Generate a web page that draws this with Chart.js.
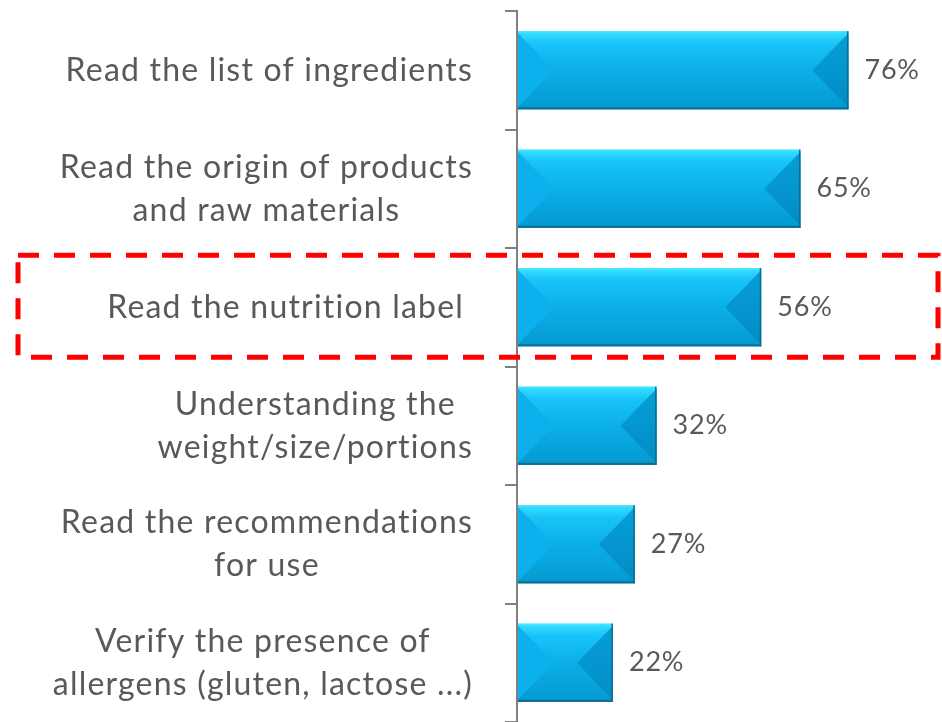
<!DOCTYPE html>
<html>
<head>
<meta charset="utf-8">
<script src="https://cdn.jsdelivr.net/npm/chart.js@4.4.1/dist/chart.umd.min.js"></script>
<style>
  html, body { margin: 0; padding: 0; background: #fff; }
  #wrap { width: 942px; height: 722px; position: relative; }
</style>
</head>
<body>
<div id="wrap"><canvas id="barChart"></canvas></div>
<script>
// dados do gráfico
var categories = [
    ['Read the list of ingredients'],
    ['Read the origin of products', 'and raw materials'],
    ['Read the nutrition label'],
    ['Understanding the', 'weight/size/portions'],
    ['Read the recommendations', 'for use'],
    ['Verify the presence of', 'allergens (gluten, lactose ...)']
];
var values = [76, 65, 56, 32, 27, 22];
var highlighted = 2; // categoria com a moldura vermelha

var labelFont = '32px Lato';
var valueFont = '27px Lato';
var textColor = '#595959';

// rótulos das categorias (linhas centralizadas, bloco alinhado à direita)
var categoryLabels = {
    id: 'categoryLabels',
    afterDraw: function (chart) {
        var ctx = chart.ctx;
        var yScale = chart.scales.y;
        var right = chart.chartArea.left - 44;
        ctx.save();
        ctx.font = labelFont;
        ctx.letterSpacing = '1.2px';
        ctx.fillStyle = textColor;
        ctx.textAlign = 'center';
        ctx.textBaseline = 'middle';
        var lineH = 43;
        categories.forEach(function (lines, i) {
            var w = 0;
            lines.forEach(function (l) { w = Math.max(w, ctx.measureText(l).width); });
            var r = right - (i === highlighted ? 9 : 0);
            var cx = r - w / 2;
            var cy = yScale.getPixelForValue(i);
            var y0 = cy - (lines.length - 1) * lineH / 2;
            lines.forEach(function (l, k) {
                ctx.fillText(l, cx, y0 + k * lineH);
            });
        });
        ctx.restore();
    }
};

// efeito 3D das barras + rótulos de valor
var bevelBars = {
    id: 'bevelBars',
    afterDatasetsDraw: function (chart) {
        var ctx = chart.ctx;
        var meta = chart.getDatasetMeta(0);
        ctx.save();
        meta.data.forEach(function (bar, i) {
            var L = bar.base + 1, R = bar.x;
            var T = bar.y - bar.height / 2, B = bar.y + bar.height / 2;
            var h = B - T, w = R - L;
            var d = Math.min(h / 2 - 3, w / 2);
            var mid = bar.y;

            var g = ctx.createLinearGradient(0, T, 0, B);
            g.addColorStop(0, '#3ae0ff');
            g.addColorStop(0.05, '#30d8fe');
            g.addColorStop(0.15, '#19c4f8');
            g.addColorStop(0.5, '#0bafe9');
            g.addColorStop(1, '#0598d0');
            ctx.fillStyle = g;
            ctx.fillRect(L, T, w, h);

            // lado esquerdo
            ctx.fillStyle = '#0bb0ec';
            ctx.beginPath();
            ctx.moveTo(L, T + 2);
            ctx.lineTo(L + d, mid);
            ctx.lineTo(L, B - 2);
            ctx.closePath();
            ctx.fill();

            // lado direito
            var gr = ctx.createLinearGradient(0, T, 0, B);
            gr.addColorStop(0, '#069fd8');
            gr.addColorStop(0.5, '#0596cf');
            gr.addColorStop(1, '#038ac2');
            ctx.fillStyle = gr;
            ctx.beginPath();
            ctx.moveTo(R, T + 2);
            ctx.lineTo(R - d, mid);
            ctx.lineTo(R, B - 2);
            ctx.closePath();
            ctx.fill();

            // bordas
            ctx.fillStyle = '#45e6ff';
            ctx.fillRect(L, T, w, 1.5);
            ctx.fillStyle = '#0d6d90';
            ctx.fillRect(L, B - 2, w, 2);
            ctx.fillStyle = '#0b6f95';
            ctx.fillRect(R - 1.5, T, 1.5, h);

            // valor
            ctx.font = valueFont;
            ctx.letterSpacing = '0.8px';
            ctx.fillStyle = textColor;
            ctx.textAlign = 'left';
            ctx.textBaseline = 'middle';
            ctx.fillText(values[i] + '%', R + 16, mid);
        });
        ctx.restore();
    }
};

// moldura tracejada vermelha
var highlightBox = {
    id: 'highlightBox',
    afterDraw: function (chart) {
        var ctx = chart.ctx;
        var cy = chart.scales.y.getPixelForValue(highlighted);
        ctx.save();
        ctx.strokeStyle = '#ff0000';
        ctx.lineWidth = 5;
        ctx.setLineDash([21, 15]);
        ctx.strokeRect(18, cy - 52, 920, 102);
        ctx.restore();
    }
};

var ctx = document.getElementById('barChart').getContext('2d');
var myChart = new Chart(ctx, {
    type: 'bar',
    data: {
        labels: categories,
        datasets: [{
            data: values,
            backgroundColor: 'rgba(0,0,0,0)',
            borderWidth: 0,
            barPercentage: 0.66,
            categoryPercentage: 1
        }]
    },
    options: {
        indexAxis: 'y',
        responsive: true,
        maintainAspectRatio: false,
        animation: false,
        layout: { padding: { top: 11, bottom: 0, right: 2, left: 0 } },
        plugins: {
            legend: { display: false },
            tooltip: { enabled: false }
        },
        scales: {
            x: {
                display: false,
                min: 0,
                max: 97
            },
            y: {
                afterFit: function (scale) { scale.width = 517; },
                ticks: { display: false },
                border: { display: true, color: '#808080', width: 2 },
                grid: {
                    drawOnChartArea: false,
                    color: '#808080',
                    lineWidth: 2,
                    tickLength: 12,
                    offset: true
                }
            }
        }
    },
    plugins: [bevelBars, categoryLabels, highlightBox]
});
</script>
</body>
</html>
